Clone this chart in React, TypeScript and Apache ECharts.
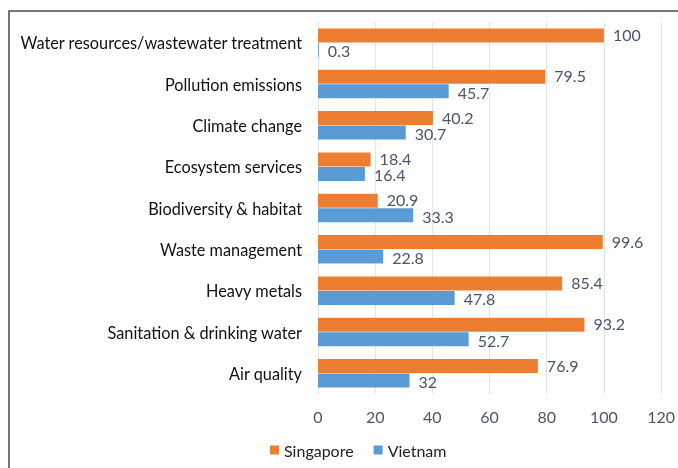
import React, { useEffect, useRef } from "react";
import * as echarts from "echarts";

const categories = [
  "Water resources/wastewater treatment",
  "Pollution emissions",
  "Climate change",
  "Ecosystem services",
  "Biodiversity & habitat",
  "Waste management",
  "Heavy metals",
  "Sanitation & drinking water",
  "Air quality",
];
const singapore = [100, 79.5, 40.2, 18.4, 20.9, 99.6, 85.4, 93.2, 76.9];
const vietnam = [0.3, 45.7, 30.7, 16.4, 33.3, 22.8, 47.8, 52.7, 32];

const FONT = "Lato, 'Open Sans', sans-serif";
const LABEL = "#4a5568";

export default function App() {
  const ref = useRef<HTMLDivElement>(null);
  useEffect(() => {
    if (!ref.current) return;
    const chart = echarts.init(ref.current, null, { renderer: "svg" });
    const valueLabel = (dy: number) => ({
      show: true,
      position: "right" as const,
      distance: 9,
      offset: [0, dy],
      color: LABEL,
      fontSize: 16,
      fontFamily: FONT,
    });
    chart.setOption({
      animation: false,
      textStyle: { fontFamily: FONT },
      grid: { left: 318, right: 14, top: 22, bottom: 74 },
      legend: {
        bottom: 5,
        left: 265,
        itemWidth: 9,
        itemHeight: 9,
        itemGap: 20,
        icon: "rect",
        textStyle: { fontSize: 16, color: "#222", fontFamily: FONT },
        data: ["Singapore", "Vietnam"],
      },
      xAxis: {
        type: "value",
        min: 0,
        max: 120,
        interval: 20,
        axisLine: { show: false },
        axisTick: { show: false },
        axisLabel: { color: LABEL, fontSize: 16, margin: 14, fontFamily: FONT },
        splitLine: { lineStyle: { color: "#dfe3ea", width: 1 } },
      },
      yAxis: {
        type: "category",
        inverse: true,
        data: categories,
        axisLine: { show: false },
        axisTick: { show: false },
        axisLabel: { color: "#111", fontSize: 16.3, margin: 16, fontFamily: FONT },
      },
      series: [
        {
          name: "Singapore",
          type: "bar",
          data: singapore,
          barWidth: 14,
          barGap: "4%",
          itemStyle: { color: "#ED7D31" },
          label: valueLabel(-1),
        },
        {
          name: "Vietnam",
          type: "bar",
          data: vietnam,
          barWidth: 14,
          itemStyle: { color: "#5B9BD5" },
          label: valueLabel(1),
        },
      ],
      graphic: [
        {
          type: "polyline",
          shape: { points: [[9, 468], [9, 11], [678, 11]] },
          style: { stroke: "#4a4a4a", lineWidth: 1.5, fill: "none" },
          silent: true,
        },
      ],
    });
    return () => chart.dispose();
  }, []);
  return <div ref={ref} style={{ width: 678, height: 468, position: "fixed", left: 0, top: 0 }} />;
}
